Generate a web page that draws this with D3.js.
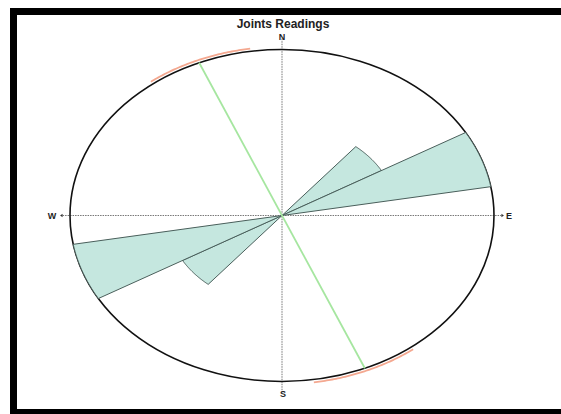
<!DOCTYPE html>
<html>
<head>
<meta charset="utf-8">
<script src="https://cdn.jsdelivr.net/npm/d3@7"></script>
<style>
  html, body { margin: 0; padding: 0; background: #fff; }
  svg { display: block; }
</style>
</head>
<body>
<script>
// Joint strike readings, binned every 20 degrees (bidirectional data)
const binStarts = [40, 60];
const binWidth = 20;
const binCounts = [13, 24];
// Mean direction of the set and its confidence half-width (degrees)
const meanDirection = 337;
const confidenceHalf = 14.5;
// Compass labels and their azimuths
const compassLabels = ["N", "E", "S", "W"];
const compassAngles = [0, 90, 180, 270];
const chartTitle = "Joints Readings";

const W = 561, H = 414;
const svg = d3.select("body").append("svg").attr("width", W).attr("height", H);

// Frame (top, left and bottom edges visible)
svg.append("rect").attr("x", 0).attr("y", 0).attr("width", W).attr("height", H).attr("fill", "#fff");
svg.append("path")
  .attr("d", "M" + (W + 10) + ",11.5 L13.5,11.5 L13.5,412.5 L" + (W + 10) + ",412.5")
  .attr("fill", "none").attr("stroke", "#000").attr("stroke-width", 7);

const cx = 282, cy = 215.5, rx = 212, ry = 166;
// radial scale: count -> fraction of the outer circle
const rScale = d3.scaleLinear().domain([0, d3.max(binCounts)]).range([0, 1]);
const xS = d3.scaleLinear().domain([-1, 1]).range([cx - rx, cx + rx]);
const yS = d3.scaleLinear().domain([-1, 1]).range([cy + ry, cy - ry]);
const toXY = (az, r) => {
  const a = az * Math.PI / 180;
  return [xS(r * Math.sin(a)), yS(r * Math.cos(a))];
};
const line = d3.line();

const g = svg.append("g");

// Compass axes (dotted)
const axisExt = 1.045;
g.append("line")
  .attr("x1", xS(0)).attr("y1", yS(axisExt + 0.02))
  .attr("x2", xS(0)).attr("y2", yS(-axisExt - 0.02))
  .attr("stroke", "#777").attr("stroke-width", 1).attr("stroke-dasharray", "1.5,1");
g.append("line")
  .attr("x1", xS(-1.035)).attr("y1", yS(0))
  .attr("x2", xS(1.035)).attr("y2", yS(0))
  .attr("stroke", "#777").attr("stroke-width", 1).attr("stroke-dasharray", "1.5,1");
// small arrowheads at the axis ends
[[xS(-1.035), -1], [xS(1.035), 1]].forEach(([x, s]) => {
  g.append("path")
    .attr("d", line([[x, yS(0) - 1.8], [x + s * 2.5, yS(0)], [x, yS(0) + 1.8]]) + "Z")
    .attr("fill", "#333");
});

// Outer circle (drawn as ellipse due to plot aspect)
g.append("ellipse")
  .attr("cx", xS(0)).attr("cy", yS(0))
  .attr("rx", xS(1) - xS(0)).attr("ry", yS(0) - yS(1))
  .attr("fill", "none").attr("stroke", "#111").attr("stroke-width", 1.6);

// Rose petals (each bin plus its opposite direction)
const petals = [];
binStarts.forEach((s, i) => {
  petals.push({ a0: s, a1: s + binWidth, v: binCounts[i] });
  petals.push({ a0: s + 180, a1: s + 180 + binWidth, v: binCounts[i] });
});
g.selectAll("path.petal").data(petals).join("path")
  .attr("class", "petal")
  .attr("d", d => {
    const r = rScale(d.v);
    const pts = [toXY(0, 0)];
    d3.range(d.a0, d.a1 + 0.001, 0.5).forEach(a => pts.push(toXY(a, r)));
    return line(pts) + "Z";
  })
  .attr("fill", "#c5e7df").attr("stroke", "#4a5f5b").attr("stroke-width", 1)
  .attr("stroke-linejoin", "round");

// Mean direction line
const m0 = toXY(meanDirection, 1), m1 = toXY(meanDirection + 180, 1);
g.append("line")
  .attr("x1", m0[0]).attr("y1", m0[1]).attr("x2", m1[0]).attr("y2", m1[1])
  .attr("stroke", "#a6e6a0").attr("stroke-width", 1.8);

// Confidence arcs just outside the circle
[meanDirection, meanDirection + 180].forEach(c => {
  const pts = d3.range(c - confidenceHalf, c + confidenceHalf + 0.001, 0.5).map(a => toXY(a, 1.016));
  g.append("path").attr("d", line(pts))
    .attr("fill", "none").attr("stroke", "#f4a890").attr("stroke-width", 1.8);
});

// Compass labels
const labelPos = [
  [xS(0), yS(1) - 13],
  [xS(1) + 15, yS(0) + 0.5],
  [xS(0) + 1, yS(-1) + 12],
  [xS(-1) - 18, yS(0) + 0.5]
];
g.selectAll("text.compass").data(compassLabels).join("text")
  .attr("class", "compass")
  .attr("x", (d, i) => labelPos[i][0]).attr("y", (d, i) => labelPos[i][1])
  .attr("text-anchor", "middle").attr("dominant-baseline", "central")
  .attr("font-family", "Liberation Sans, Arial, sans-serif").attr("font-weight", "bold")
  .attr("font-size", 9).attr("fill", "#222")
  .text(d => d);

// Title
svg.append("text")
  .attr("x", 283).attr("y", 28)
  .attr("text-anchor", "middle")
  .attr("font-family", "Liberation Sans, Arial, sans-serif").attr("font-weight", "bold")
  .attr("font-size", 12).attr("fill", "#222")
  .text(chartTitle);
</script>
</body>
</html>
